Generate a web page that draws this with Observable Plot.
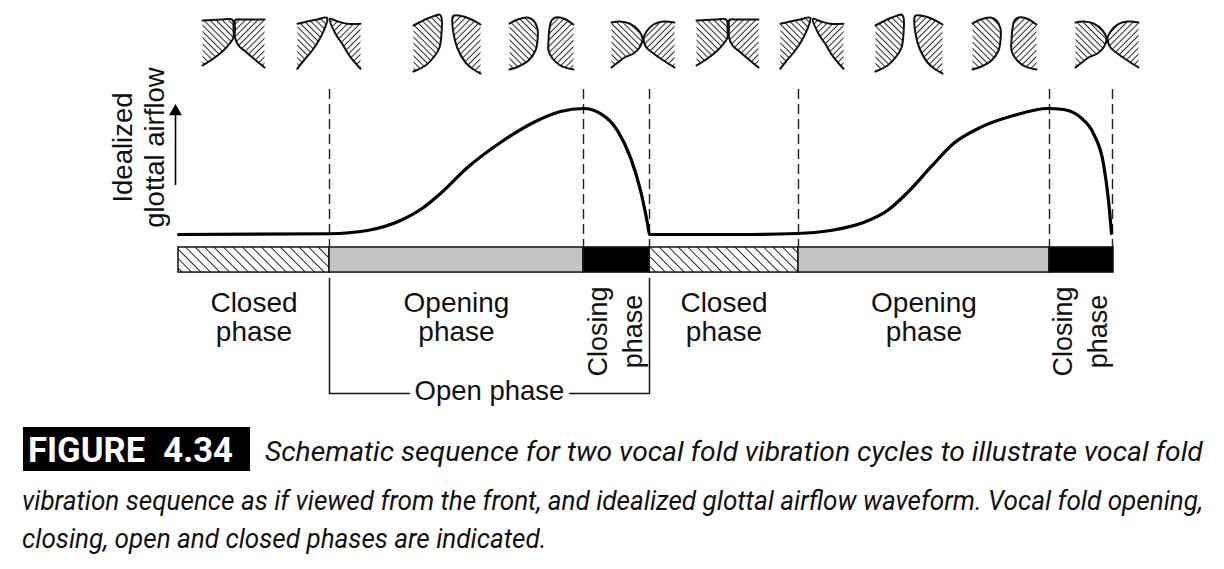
<!DOCTYPE html>
<html><head><meta charset="utf-8">
<script src="https://cdn.jsdelivr.net/npm/d3@7"></script>
<script src="https://cdn.jsdelivr.net/npm/@observablehq/plot@0.6"></script>
<style>
html,body{margin:0;padding:0;background:#fff;}
#chart{width:1224px;}
#chart svg{display:block;}
</style></head><body><div id="chart"></div>
<script>
// ---- data (time in arbitrary units over two cycles, airflow in % of peak) ----
const phaseStart = [0, 151, 405, 471, 620, 871];
const phaseEnd   = [151, 405, 471, 620, 871, 935];
const phaseKind  = ["closed", "opening", "closing", "closed", "opening", "closing"];
const phaseLabel = ["Closed\nphase", "Opening\nphase", "Closing\nphase", "Closed\nphase", "Opening\nphase", "Closing\nphase"];
const boundaryTimes = [151, 405, 471, 620, 871, 934];

const flowT = [0, 151, 189, 222, 245, 262, 289, 322, 355, 382, 405, 422, 439, 452, 462, 469, 471, 560,
               619, 652, 685, 709, 729, 752, 775, 802, 835, 869, 885, 902, 915, 925, 930, 933];
const flowV = [0, 0.6, 3.2, 11.1, 21.4, 32.5, 53.2, 73, 88.9, 97.6, 100, 96, 82.5, 61, 35, 8.7, 0, 0,
               0.8, 3.2, 9.5, 19, 33.3, 53.2, 72.2, 85, 94.4, 100, 99.2, 92.9, 80, 56, 27, 0.8];

const foldCenters = [55, 151, 269, 363, 465, 549, 634, 731, 826, 929];
const foldTypes = ["closed", "apex", "open", "round", "contact", "closed", "apex", "open", "round", "contact"];
// outline of each fold: [dx, depth] from lateral-top, along top & medial edge, to lateral-bottom
const foldClosedL  = [[-31,20],[-22,19.5],[-12,19],[-3,18.5],[-0.5,20],[0,28],[0,37],[-3,42],[-10,50],[-20,58],[-31,65]];
const foldClosedR  = [[31,19],[20,19],[10,19],[3,19],[1.5,20],[1.5,28],[1.5,37],[5,45],[12,51],[19,57],[31,67]];
const foldApexL    = [[-32,23.3],[-22.3,21],[-12.3,19],[-2.3,17.3],[-5.7,30],[-10.7,40],[-17.3,50],[-25.7,60],[-32.3,68.3]];
const foldApexR    = [[31,23.3],[17.7,23.3],[7.7,20.7],[0.3,18.3],[6,33.3],[12.7,43.3],[21,56.7],[31,68.3]];
const foldOpenL    = [[-34,25],[-20,18],[-12,15],[-8,14],[-6,17],[-6,33],[-8,47],[-14,57],[-22,65],[-34,71]];
const foldOpenR    = [[33,24],[26,20],[16,16],[6,15],[5,17],[6,33],[10,48],[18,62],[26,69],[33,73]];
const foldRoundL   = [[-32,23],[-24,19],[-14,17],[-8,20],[-4,28],[-4,40],[-6,50],[-13,60],[-23,66],[-32,69]];
const foldRoundR   = [[32,24],[22,18],[14,17],[10,20],[8,28],[7,40],[7,50],[11,58],[19,65],[32,69]];
const foldContactL = [[-32,22],[-24,21],[-14,23],[-5,30],[-1,38],[-4,47],[-10,53],[-19,57],[-27,63],[-32,67]];
const foldContactR = [[31,22],[20,21],[10,24],[3,31],[0,38],[3,47],[10,53],[20,60],[31,67]];

const openPhaseLabel = "Open phase";
const yLabel = "Idealized\nglottal airflow";
const captionTag = "FIGURE 4.34";
const captionLines = [
  "Schematic sequence for two vocal fold vibration cycles to illustrate vocal fold",
  "vibration sequence as if viewed from the front, and idealized glottal airflow waveform. Vocal fold opening,",
  "closing, open and closed phases are indicated."
];

// ---- layout levels (in airflow units) ----
const BAR_TOP = -10.3, BAR_BOTTOM = -30.2, DASH_TOP = 115;
const LABEL_Y = -65.5, ROT_LABEL_Y = -77;
const BRACKET_TOP = -34.9, BRACKET_Y = -126.2, OPEN_LABEL_Y = -124;
const FOLD_TOP = 185.7, FOLD_K = 1 / 1.26;

const phases = phaseStart.map((s, i) => ({start: s, end: phaseEnd[i], kind: phaseKind[i], label: phaseLabel[i], mid: (s + phaseEnd[i]) / 2}));
const flow = flowT.map((t, i) => ({t, v: flowV[i]}));
const shapes = {
  closed: {left: foldClosedL, right: foldClosedR},
  apex: {left: foldApexL, right: foldApexR},
  open: {left: foldOpenL, right: foldOpenR},
  round: {left: foldRoundL, right: foldRoundR},
  contact: {left: foldContactL, right: foldContactR}
};
const foldPts = [];
foldCenters.forEach((c, i) => {
  const sh = shapes[foldTypes[i]];
  for (const side of ["left", "right"]) {
    sh[side].forEach(([dx, d]) => foldPts.push({id: i + side, side, t: c + dx, f: FOLD_TOP - d * FOLD_K}));
  }
});
const bracket = [
  {t: phaseStart[1], f: BRACKET_TOP}, {t: phaseStart[1], f: BRACKET_Y},
  {t: phaseEnd[2], f: BRACKET_Y}, {t: phaseEnd[2], f: BRACKET_TOP}
];

const font = "'Liberation Sans', Arial, Helvetica, sans-serif";
const plot = Plot.plot({
  width: 1224, height: 405,
  marginTop: 0, marginBottom: 0, marginLeft: 0, marginRight: 0,
  x: {domain: [-178, 1046], axis: null},
  y: {domain: [-135.7, 185.7], axis: null},
  style: {fontFamily: font, background: "#fff", color: "#111", overflow: "visible"},
  marks: [
    // vocal folds
    Plot.line(foldPts.filter(d => d.side === "left"), {x: "t", y: "f", z: "id", curve: "catmull-rom", fill: "url(#hatchL)", stroke: "#111", strokeWidth: 2}),
    Plot.line(foldPts.filter(d => d.side === "right"), {x: "t", y: "f", z: "id", curve: "catmull-rom", fill: "url(#hatchR)", stroke: "#111", strokeWidth: 2}),
    // dashed phase boundaries
    Plot.ruleX(boundaryTimes, {x: d => d, y1: DASH_TOP, y2: BAR_TOP, stroke: "#222", strokeWidth: 1.4, strokeDasharray: "10,5"}),
    // waveform
    Plot.line(flow, {x: "t", y: "v", curve: "monotone-x", stroke: "#000", strokeWidth: 3.2}),
    // phase bar
    Plot.rect(phases.filter(d => d.kind === "closed"), {x1: "start", x2: "end", y1: BAR_BOTTOM, y2: BAR_TOP, fill: "url(#hatchBar)", stroke: "#111", strokeWidth: 1.5}),
    Plot.rect(phases.filter(d => d.kind === "opening"), {x1: "start", x2: "end", y1: BAR_BOTTOM, y2: BAR_TOP, fill: "#c3c3c3", stroke: "#111", strokeWidth: 1.5}),
    Plot.rect(phases.filter(d => d.kind === "closing"), {x1: "start", x2: "end", y1: BAR_BOTTOM, y2: BAR_TOP, fill: "#000", stroke: "#111", strokeWidth: 1.5}),
    // phase labels
    Plot.text(phases.filter(d => d.kind !== "closing"), {x: "mid", y: LABEL_Y, text: "label", fontSize: 28, lineHeight: 1.04, fill: "#111"}),
    Plot.text(phases.filter(d => d.kind === "closing"), {x: "mid", y: ROT_LABEL_Y, dx: -3, text: "label", fontSize: 27, lineHeight: 1.3, rotate: -90, fill: "#111"}),
    // open phase bracket
    Plot.line(bracket, {x: "t", y: "f", stroke: "#111", strokeWidth: 1.5, curve: "linear"}),
    Plot.text([openPhaseLabel], {x: (phaseStart[1] + phaseEnd[2]) / 2, y: OPEN_LABEL_Y, text: d => d, fontSize: 27.5, fill: "#111", stroke: "#fff", strokeWidth: 12, paintOrder: "stroke"}),
    // y label and arrow
    Plot.text([yLabel], {x: -40.5, y: 69, text: d => d, rotate: -90, fontSize: 27.5, lineHeight: 1.15, fill: "#111"}),
    Plot.ruleX([-3], {x: d => d, y1: 38.9, y2: 94.5, stroke: "#000", strokeWidth: 1.6}),
    Plot.dot([-3], {x: d => d, y: 97.6, symbol: "triangle", r: 4.8, fill: "#000", stroke: "none"})
  ]
});

// hatch patterns
const NS = "http://www.w3.org/2000/svg";
const defs = document.createElementNS(NS, "defs");
defs.innerHTML = `
  <pattern id="hatchL" patternUnits="userSpaceOnUse" width="4.4" height="4.4" patternTransform="rotate(-45)">
    <rect width="4.4" height="4.4" fill="#fff"/>
    <line x1="2.2" y1="-1" x2="2.2" y2="5.4" stroke="#222" stroke-width="1"/>
  </pattern>
  <pattern id="hatchR" patternUnits="userSpaceOnUse" width="4.4" height="4.4" patternTransform="rotate(45)">
    <rect width="4.4" height="4.4" fill="#fff"/>
    <line x1="2.2" y1="-1" x2="2.2" y2="5.4" stroke="#222" stroke-width="1"/>
  </pattern>
  <pattern id="hatchBar" patternUnits="userSpaceOnUse" width="6.7" height="6.7" patternTransform="rotate(-45)">
    <rect width="6.7" height="6.7" fill="#fff"/>
    <line x1="3.35" y1="-1" x2="3.35" y2="8" stroke="#222" stroke-width="1"/>
  </pattern>`;
plot.insertBefore(defs, plot.firstChild);
document.getElementById("chart").appendChild(plot);

// caption (below the chart); condensed by a horizontal scale so the lines fit
const capFont = "Roboto, 'Liberation Sans', sans-serif";
const cap = d3.create("svg").attr("width", 1224).attr("height", 164).style("display", "block").style("background", "#fff");
document.getElementById("chart").appendChild(cap.node());
cap.append("rect").attr("x", 23).attr("y", 22).attr("width", 227).attr("height", 44).attr("fill", "#000");
const tagG = cap.append("g");
const tag = tagG.append("text").attr("x", 0).attr("y", 0).attr("fill", "#fff")
  .attr("font-family", capFont).attr("font-weight", "bold").attr("font-size", 36)
  .attr("word-spacing", 10).text(captionTag);
const tagW = tag.node().getComputedTextLength();
tagG.attr("transform", `translate(28,57) scale(${Math.min(1.1, 205 / tagW)},1)`);

const capPos = [{x: 265, y: 56, len: 938}, {x: 22, y: 105, len: 1182}, {x: 22, y: 143}];
let sxLast = 0.85;
captionLines.forEach((line, i) => {
  const g = cap.append("g");
  const t = g.append("text").attr("x", 0).attr("y", 0).attr("fill", "#111")
    .attr("font-family", capFont).attr("font-style", "italic")
    .attr("font-size", 28).text(line);
  const w = t.node().getComputedTextLength();
  const sx = capPos[i].len ? capPos[i].len / w : sxLast;
  sxLast = sx;
  g.attr("transform", `translate(${capPos[i].x},${capPos[i].y}) scale(${sx},1)`);
});
</script></body></html>
